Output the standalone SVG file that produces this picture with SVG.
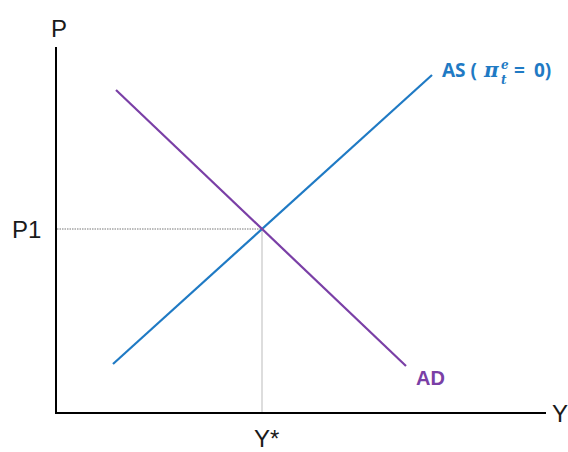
<svg xmlns="http://www.w3.org/2000/svg" width="568" height="452" viewBox="0 0 568 452">
<style>
.ax{stroke:#000;stroke-width:2;fill:none}
.lbl{font-family:"Liberation Sans",Arial,sans-serif;font-size:24px;fill:#1a1a1a}
.as{stroke:#1f7ac4;stroke-width:2.2;fill:none}
.ad{stroke:#7a3fa6;stroke-width:2.2;fill:none}
.asl{font-family:"Open Sans","Liberation Sans",sans-serif;font-weight:bold;font-size:19px;fill:#1f7ac4}
.mi{font-family:"DejaVu Serif",serif;font-style:italic;font-weight:bold;fill:#1f7ac4}
</style>
<rect width="568" height="452" fill="#fff"/>
<g id="axes">
<line class="ax" x1="56" y1="47" x2="56" y2="414"/>
<line class="ax" x1="55" y1="413" x2="546" y2="413"/>
</g>
<g id="guides">
<line x1="57" y1="229" x2="262" y2="229" stroke="#777" stroke-width="1" stroke-dasharray="1.5,1"/>
<line x1="262" y1="229" x2="262" y2="412" stroke="#bbb" stroke-width="1"/>
</g>
<g id="connectors">
<line id="AS" class="as" x1="113" y1="364" x2="432" y2="75"/>
<line id="AD" class="ad" x1="116" y1="90" x2="406" y2="366"/>
</g>
<g id="labels">
<text class="lbl" x="51" y="37">P</text>
<text class="lbl" x="12" y="238">P1</text>
<text class="lbl" x="254" y="447">Y*</text>
<text class="lbl" x="552" y="422">Y</text>
<text x="416" y="385" font-family="Liberation Sans,Arial,sans-serif" font-weight="bold" font-size="20" fill="#7a3fa6">AD</text>
<g id="as-label">
<text class="asl" x="442" y="77">AS (</text>
<text class="mi" x="484" y="77" font-size="20">π</text>
<text class="mi" x="501" y="69" font-size="12">e</text>
<text class="mi" x="501" y="84" font-size="12">t</text>
<text class="asl" x="514" y="77">=</text>
<text class="asl" x="534" y="77">0)</text>
</g>
</g>
</svg>
